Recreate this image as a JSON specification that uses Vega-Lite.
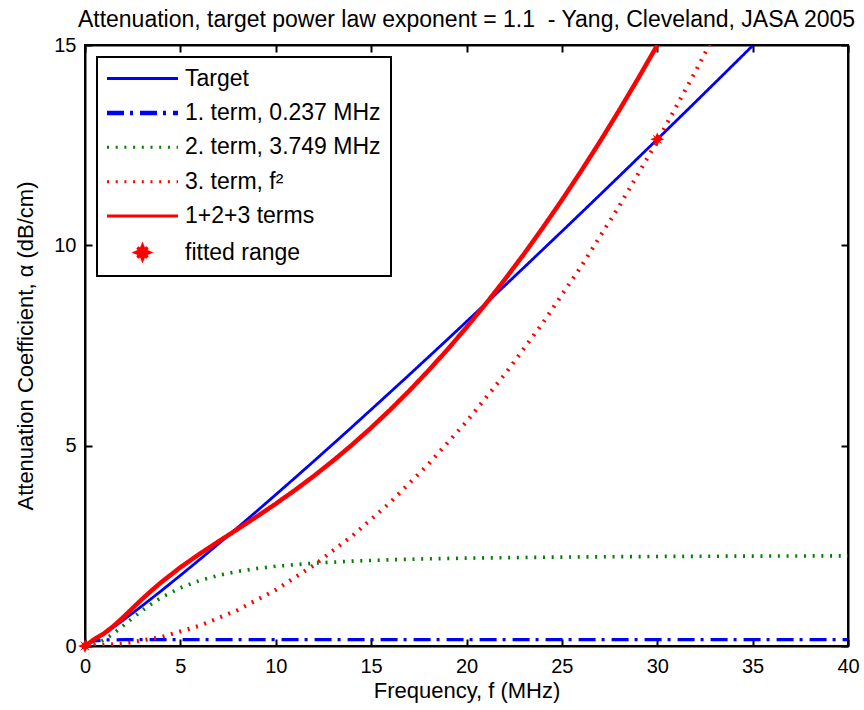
{
  "$schema": "https://vega.github.io/schema/vega-lite/v6.json",
  "width": 763,
  "height": 601,
  "autosize": {"type": "none"},
  "padding": {"left": 85, "top": 45, "right": 16, "bottom": 64},
  "background": "white",
  "config": {
    "font": "Liberation Sans",
    "view": {"stroke": "black", "strokeWidth": 2},
    "axis": {
      "domainColor": "black",
      "domainWidth": 2,
      "tickColor": "black",
      "tickWidth": 2,
      "tickSize": -7,
      "grid": false,
      "labelFont": "Liberation Sans",
      "labelFontSize": 20,
      "labelColor": "black",
      "titleFont": "Liberation Sans",
      "titleFontSize": 22,
      "titleFontWeight": "normal",
      "titleColor": "black"
    }
  },
  "title": {
    "text": "Attenuation, target power law exponent = 1.1 \u00a0- Yang, Cleveland, JASA 2005",
    "font": "Liberation Sans",
    "fontSize": 23,
    "fontWeight": "normal",
    "color": "black",
    "anchor": "middle",
    "offset": 3
  },
  "datasets": {
    "curves": [
      {"series": "Target", "f": 0, "a": 0},
      {"series": "Target", "f": 1, "a": 0.3},
      {"series": "Target", "f": 2, "a": 0.643},
      {"series": "Target", "f": 3, "a": 1.004},
      {"series": "Target", "f": 4, "a": 1.378},
      {"series": "Target", "f": 5, "a": 1.762},
      {"series": "Target", "f": 6, "a": 2.153},
      {"series": "Target", "f": 7, "a": 2.551},
      {"series": "Target", "f": 8, "a": 2.955},
      {"series": "Target", "f": 9, "a": 3.363},
      {"series": "Target", "f": 10, "a": 3.777},
      {"series": "Target", "f": 11, "a": 4.194},
      {"series": "Target", "f": 12, "a": 4.615},
      {"series": "Target", "f": 13, "a": 5.04},
      {"series": "Target", "f": 14, "a": 5.468},
      {"series": "Target", "f": 15, "a": 5.9},
      {"series": "Target", "f": 16, "a": 6.334},
      {"series": "Target", "f": 17, "a": 6.77},
      {"series": "Target", "f": 18, "a": 7.21},
      {"series": "Target", "f": 19, "a": 7.651},
      {"series": "Target", "f": 20, "a": 8.096},
      {"series": "Target", "f": 21, "a": 8.542},
      {"series": "Target", "f": 22, "a": 8.991},
      {"series": "Target", "f": 23, "a": 9.442},
      {"series": "Target", "f": 24, "a": 9.895},
      {"series": "Target", "f": 25, "a": 10.348},
      {"series": "Target", "f": 26, "a": 10.804},
      {"series": "Target", "f": 27, "a": 11.262},
      {"series": "Target", "f": 28, "a": 11.722},
      {"series": "Target", "f": 29, "a": 12.184},
      {"series": "Target", "f": 30, "a": 12.646},
      {"series": "Target", "f": 31, "a": 13.11},
      {"series": "Target", "f": 32, "a": 13.576},
      {"series": "Target", "f": 33, "a": 14.044},
      {"series": "Target", "f": 34, "a": 14.513},
      {"series": "Target", "f": 35, "a": 14.983},

      {"series": "1. term, 0.237 MHz", "f": 0, "a": 0},
      {"series": "1. term, 0.237 MHz", "f": 0.25, "a": 0.08},
      {"series": "1. term, 0.237 MHz", "f": 0.5, "a": 0.13},
      {"series": "1. term, 0.237 MHz", "f": 1, "a": 0.15},
      {"series": "1. term, 0.237 MHz", "f": 2, "a": 0.158},
      {"series": "1. term, 0.237 MHz", "f": 40, "a": 0.16},

      {"series": "2. term, 3.749 MHz", "f": 0, "a": 0},
      {"series": "2. term, 3.749 MHz", "f": 0.5, "a": 0.04},
      {"series": "2. term, 3.749 MHz", "f": 1, "a": 0.151},
      {"series": "2. term, 3.749 MHz", "f": 1.5, "a": 0.313},
      {"series": "2. term, 3.749 MHz", "f": 2, "a": 0.503},
      {"series": "2. term, 3.749 MHz", "f": 2.5, "a": 0.699},
      {"series": "2. term, 3.749 MHz", "f": 3, "a": 0.886},
      {"series": "2. term, 3.749 MHz", "f": 3.5, "a": 1.057},
      {"series": "2. term, 3.749 MHz", "f": 4, "a": 1.208},
      {"series": "2. term, 3.749 MHz", "f": 5, "a": 1.453},
      {"series": "2. term, 3.749 MHz", "f": 6, "a": 1.633},
      {"series": "2. term, 3.749 MHz", "f": 7, "a": 1.764},
      {"series": "2. term, 3.749 MHz", "f": 8, "a": 1.861},
      {"series": "2. term, 3.749 MHz", "f": 9, "a": 1.934},
      {"series": "2. term, 3.749 MHz", "f": 10, "a": 1.99},
      {"series": "2. term, 3.749 MHz", "f": 12, "a": 2.068},
      {"series": "2. term, 3.749 MHz", "f": 14, "a": 2.118},
      {"series": "2. term, 3.749 MHz", "f": 16, "a": 2.152},
      {"series": "2. term, 3.749 MHz", "f": 18, "a": 2.176},
      {"series": "2. term, 3.749 MHz", "f": 20, "a": 2.193},
      {"series": "2. term, 3.749 MHz", "f": 25, "a": 2.22},
      {"series": "2. term, 3.749 MHz", "f": 30, "a": 2.235},
      {"series": "2. term, 3.749 MHz", "f": 35, "a": 2.244},
      {"series": "2. term, 3.749 MHz", "f": 40, "a": 2.25},

      {"series": "3. term, f²", "f": 0, "a": 0},
      {"series": "3. term, f²", "f": 2, "a": 0.056},
      {"series": "3. term, f²", "f": 4, "a": 0.224},
      {"series": "3. term, f²", "f": 6, "a": 0.504},
      {"series": "3. term, f²", "f": 8, "a": 0.896},
      {"series": "3. term, f²", "f": 10, "a": 1.4},
      {"series": "3. term, f²", "f": 12, "a": 2.016},
      {"series": "3. term, f²", "f": 14, "a": 2.744},
      {"series": "3. term, f²", "f": 16, "a": 3.584},
      {"series": "3. term, f²", "f": 18, "a": 4.536},
      {"series": "3. term, f²", "f": 20, "a": 5.6},
      {"series": "3. term, f²", "f": 22, "a": 6.776},
      {"series": "3. term, f²", "f": 24, "a": 8.064},
      {"series": "3. term, f²", "f": 26, "a": 9.464},
      {"series": "3. term, f²", "f": 28, "a": 10.976},
      {"series": "3. term, f²", "f": 30, "a": 12.6},
      {"series": "3. term, f²", "f": 32, "a": 14.336},
      {"series": "3. term, f²", "f": 33, "a": 15.246},

      {"series": "1+2+3 terms", "f": 0, "a": 0},
      {"series": "1+2+3 terms", "f": 0.5, "a": 0.174},
      {"series": "1+2+3 terms", "f": 1, "a": 0.315},
      {"series": "1+2+3 terms", "f": 1.5, "a": 0.5},
      {"series": "1+2+3 terms", "f": 2, "a": 0.717},
      {"series": "1+2+3 terms", "f": 2.5, "a": 0.946},
      {"series": "1+2+3 terms", "f": 3, "a": 1.172},
      {"series": "1+2+3 terms", "f": 3.5, "a": 1.389},
      {"series": "1+2+3 terms", "f": 4, "a": 1.592},
      {"series": "1+2+3 terms", "f": 5, "a": 1.963},
      {"series": "1+2+3 terms", "f": 6, "a": 2.297},
      {"series": "1+2+3 terms", "f": 7, "a": 2.61},
      {"series": "1+2+3 terms", "f": 8, "a": 2.917},
      {"series": "1+2+3 terms", "f": 9, "a": 3.228},
      {"series": "1+2+3 terms", "f": 10, "a": 3.55},
      {"series": "1+2+3 terms", "f": 11, "a": 3.888},
      {"series": "1+2+3 terms", "f": 12, "a": 4.244},
      {"series": "1+2+3 terms", "f": 13, "a": 4.622},
      {"series": "1+2+3 terms", "f": 14, "a": 5.022},
      {"series": "1+2+3 terms", "f": 15, "a": 5.447},
      {"series": "1+2+3 terms", "f": 16, "a": 5.896},
      {"series": "1+2+3 terms", "f": 17, "a": 6.371},
      {"series": "1+2+3 terms", "f": 18, "a": 6.872},
      {"series": "1+2+3 terms", "f": 19, "a": 7.399},
      {"series": "1+2+3 terms", "f": 20, "a": 7.953},
      {"series": "1+2+3 terms", "f": 21, "a": 8.534},
      {"series": "1+2+3 terms", "f": 22, "a": 9.142},
      {"series": "1+2+3 terms", "f": 23, "a": 9.777},
      {"series": "1+2+3 terms", "f": 24, "a": 10.44},
      {"series": "1+2+3 terms", "f": 25, "a": 11.13},
      {"series": "1+2+3 terms", "f": 26, "a": 11.848},
      {"series": "1+2+3 terms", "f": 27, "a": 12.593},
      {"series": "1+2+3 terms", "f": 28, "a": 13.366},
      {"series": "1+2+3 terms", "f": 29, "a": 14.167},
      {"series": "1+2+3 terms", "f": 30, "a": 14.995}
    ],
    "fit": [
      {"series": "fitted range", "f": 0, "a": 0},
      {"series": "fitted range", "f": 30, "a": 12.646}
    ]
  },
  "layer": [
    {
      "data": {"name": "curves"},
      "mark": {"type": "line", "clip": true, "strokeCap": "butt"},
      "encoding": {
        "x": {
          "field": "f", "type": "quantitative",
          "scale": {"domain": [0, 40], "nice": false, "zero": false},
          "axis": {"orient": "bottom", "title": "Frequency, f (MHz)", "values": [0, 5, 10, 15, 20, 25, 30, 35, 40], "labelPadding": 17, "titlePadding": 4, "labelFlush": false}
        },
        "y": {
          "field": "a", "type": "quantitative",
          "scale": {"domain": [0, 15], "nice": false, "zero": false},
          "axis": {"orient": "left", "title": "Attenuation Coefficient, α (dB/cm)", "values": [0, 5, 10, 15], "labelPadding": 16, "titlePadding": 16, "labelFlush": false}
        },
        "order": {"field": "f", "type": "quantitative"},
        "color": {
          "field": "series", "type": "nominal",
          "scale": {
            "domain": ["Target", "1. term, 0.237 MHz", "2. term, 3.749 MHz", "3. term, f²", "1+2+3 terms", "fitted range"],
            "range": ["#0000ff", "#0000ff", "#008000", "#ff0000", "#ff0000", "#ff0000"]
          },
          "legend": {
            "title": null,
            "orient": "none",
            "legendX": 12,
            "legendY": 12,
            "symbolType": "stroke",
            "symbolSize": 5041,
            "rowPadding": 10.4,
            "padding": 10,
            "labelFont": "Liberation Sans",
            "labelFontSize": 23,
            "labelColor": "black",
            "labelLimit": 400,
            "strokeColor": "black",
            "fillColor": "white",
            "encode": {
              "legend": {"update": {"strokeWidth": {"value": 2}}},
              "symbols": {
                "update": {
                  "x": {"value": 35.5},
                  "y": {"value": 11.5},
                  "shape": {"signal": "datum.value === 'fitted range' ? 'M0,-1L0.25,-0.4L0.7,-0.7L0.4,-0.25L1,0L0.4,0.25L0.7,0.7L0.25,0.4L0,1L-0.25,0.4L-0.7,0.7L-0.4,0.25L-1,0L-0.4,-0.25L-0.7,-0.7L-0.25,-0.4Z' : 'stroke'"},
                  "size": {"signal": "datum.value === 'fitted range' ? 196 : 5041"},
                  "fill": {"signal": "datum.value === 'fitted range' ? '#ff0000' : 'transparent'"},
                  "strokeWidth": {"signal": "datum.value === '1. term, 0.237 MHz' ? 4.5 : 3"},
                  "strokeDash": {"signal": "datum.value === '1. term, 0.237 MHz' ? [17, 6, 3, 7] : (datum.value === '2. term, 3.749 MHz' || datum.value === '3. term, f²') ? [2, 6.7] : [1, 0]"},
                  "opacity": {"value": 1}
                }
              },
              "labels": {
                "update": {
                  "x": {"value": 78},
                  "y": {"value": 11.5}
                }
              }
            }
          }
        },
        "strokeDash": {
          "field": "series", "type": "nominal",
          "scale": {
            "domain": ["Target", "1. term, 0.237 MHz", "2. term, 3.749 MHz", "3. term, f²", "1+2+3 terms"],
            "range": [[1, 0], [17, 6, 3, 7], [2, 6.7], [2, 6.7], [1, 0]]
          },
          "legend": null
        },
        "strokeWidth": {
          "field": "series", "type": "nominal",
          "scale": {
            "domain": ["Target", "1. term, 0.237 MHz", "2. term, 3.749 MHz", "3. term, f²", "1+2+3 terms"],
            "range": [2.8, 4.5, 2.5, 2.5, 2.8]
          },
          "legend": null
        }
      }
    },
    {
      "data": {"name": "fit"},
      "mark": {
        "type": "point",
        "shape": "M0,-1L0.25,-0.4L0.7,-0.7L0.4,-0.25L1,0L0.4,0.25L0.7,0.7L0.25,0.4L0,1L-0.25,0.4L-0.7,0.7L-0.4,0.25L-1,0L-0.4,-0.25L-0.7,-0.7L-0.25,-0.4Z",
        "filled": true,
        "size": 196,
        "opacity": 1,
        "clip": false
      },
      "encoding": {
        "x": {
          "field": "f", "type": "quantitative",
          "axis": {"orient": "top", "labels": false, "title": null, "values": [0, 5, 10, 15, 20, 25, 30, 35, 40]}
        },
        "y": {
          "field": "a", "type": "quantitative",
          "axis": {"orient": "right", "labels": false, "title": null, "values": [0, 5, 10, 15]}
        },
        "color": {"field": "series", "type": "nominal"}
      }
    }
  ],
  "resolve": {"axis": {"x": "independent", "y": "independent"}}
}
